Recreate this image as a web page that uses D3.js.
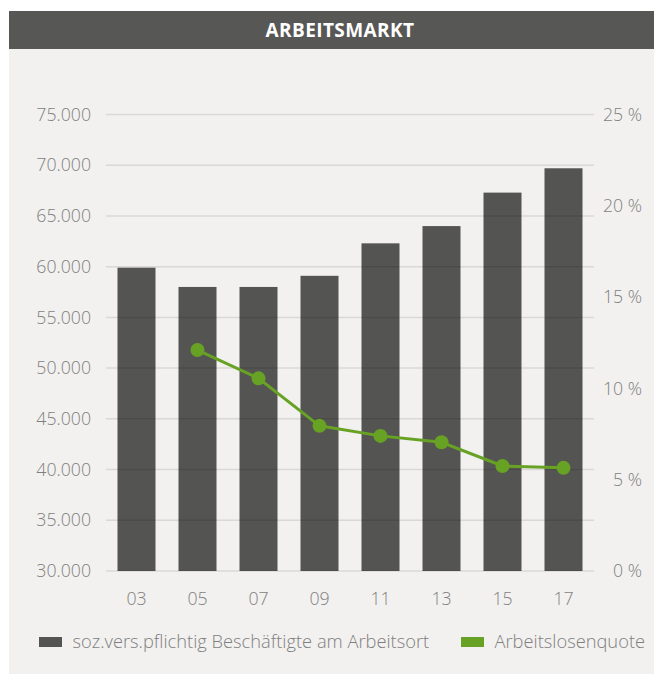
<!DOCTYPE html>
<html>
<head>
<meta charset="utf-8">
<script src="https://cdn.jsdelivr.net/npm/d3@7"></script>
<style>
  html, body { margin: 0; padding: 0; background: #ffffff; }
  svg { display: block; font-family: "Open Sans", sans-serif; }
</style>
</head>
<body>
<svg id="chart" width="654" height="675"></svg>
<script>
// ---- data ----
const title = "ARBEITSMARKT";
const years = ["03", "05", "07", "09", "11", "13", "15", "17"];
const employees = [59900, 58000, 58000, 59100, 62300, 64000, 67300, 69700];
const unemploymentRate = [null, 12.1, 10.55, 7.95, 7.4, 7.05, 5.75, 5.65];
const leftTicks = [30000, 35000, 40000, 45000, 50000, 55000, 60000, 65000, 70000, 75000];
const rightTicks = [0, 5, 10, 15, 20, 25];
const seriesNames = ["soz.vers.pflichtig Beschäftigte am Arbeitsort", "Arbeitslosenquote"];

// ---- style ----
const barColor = "#545452";
const lineColor = "#68a224";
const bg = "#f2f1ef";
const textColor = "#7f7f7f";
const fontSize = 17.7;

const svg = d3.select("#chart");
const W = 654, H = 675;

// panels
svg.append("rect").attr("x", 9).attr("y", 11).attr("width", W - 9).attr("height", 38).attr("fill", "#575755");
svg.append("rect").attr("x", 9).attr("y", 49).attr("width", W - 9).attr("height", H - 1 - 49).attr("fill", bg);
svg.append("text").attr("x", 340).attr("y", 37).attr("text-anchor", "middle")
  .attr("fill", "#ffffff").attr("font-weight", 700).attr("font-size", 19)
  .attr("letter-spacing", 0.4).text(title);

const x0 = 106, x1 = 594, yTop = 114.5, yBot = 571;
const p = 23 / 61;
const x = d3.scaleBand().domain(years).range([x0, x1]).paddingInner(p).paddingOuter(p / 2);
const yL = d3.scaleLinear().domain([30000, 75000]).range([yBot, yTop]);
const yR = d3.scaleLinear().domain([0, 25]).range([yBot, yTop]);

const de = d3.formatLocale({ decimal: ",", thousands: ".", grouping: [3], currency: ["", " €"] });
const fmtL = de.format(",d");

// bars
svg.append("g").selectAll("rect").data(years).join("rect")
  .attr("x", d => x(d)).attr("width", x.bandwidth())
  .attr("y", (d, i) => yL(employees[i])).attr("height", (d, i) => yBot - yL(employees[i]))
  .attr("fill", barColor);

// gridlines (over bars)
svg.append("g").selectAll("line").data(leftTicks).join("line")
  .attr("x1", x0).attr("x2", x1).attr("y1", d => yL(d)).attr("y2", d => yL(d))
  .attr("stroke", "rgba(0,0,0,0.1)").attr("stroke-width", 1.5);

// left axis labels
const axL = svg.append("g").attr("transform", `translate(${x0},0)`)
  .call(d3.axisLeft(yL).tickValues(leftTicks).tickFormat(fmtL).tickSize(0).tickPadding(15));
axL.select(".domain").remove();
axL.selectAll("text").attr("fill", textColor).attr("font-size", fontSize).attr("font-family", "Open Sans").attr("font-weight", 300);

// right axis labels
const axR = svg.append("g").attr("transform", `translate(642,0)`)
  .call(d3.axisLeft(yR).tickValues(rightTicks).tickFormat(d => d + " %").tickSize(0).tickPadding(0));
axR.select(".domain").remove();
axR.selectAll("text").attr("fill", textColor).attr("font-size", fontSize).attr("font-family", "Open Sans").attr("font-weight", 300);

// bottom axis labels
const axB = svg.append("g").attr("transform", `translate(0,${yBot})`)
  .call(d3.axisBottom(x).tickSize(0).tickPadding(21));
axB.select(".domain").remove();
axB.selectAll("text").attr("fill", textColor).attr("font-size", fontSize).attr("font-family", "Open Sans").attr("font-weight", 300);

// line
const pts = years.map((d, i) => ({ d, v: unemploymentRate[i] })).filter(o => o.v != null);
const line = d3.line().x(o => x(o.d) + x.bandwidth() / 2).y(o => yR(o.v));
svg.append("path").datum(pts).attr("d", line).attr("fill", "none")
  .attr("stroke", lineColor).attr("stroke-width", 3);
svg.append("g").selectAll("circle").data(pts).join("circle")
  .attr("cx", o => x(o.d) + x.bandwidth() / 2).attr("cy", o => yR(o.v)).attr("r", 7)
  .attr("fill", lineColor);

// legend
const legend = svg.append("g");
const legendItems = [
  { name: seriesNames[0], color: barColor, x: 39 },
  { name: seriesNames[1], color: lineColor, x: 461 }
];
legendItems.forEach(it => {
  legend.append("rect").attr("x", it.x).attr("y", 637).attr("width", 23).attr("height", 10).attr("fill", it.color);
  legend.append("text").attr("x", it.x + 33.5).attr("y", 648).attr("fill", textColor)
    .attr("font-size", 18.3).attr("font-weight", 300).text(it.name);
});
</script>
</body>
</html>
